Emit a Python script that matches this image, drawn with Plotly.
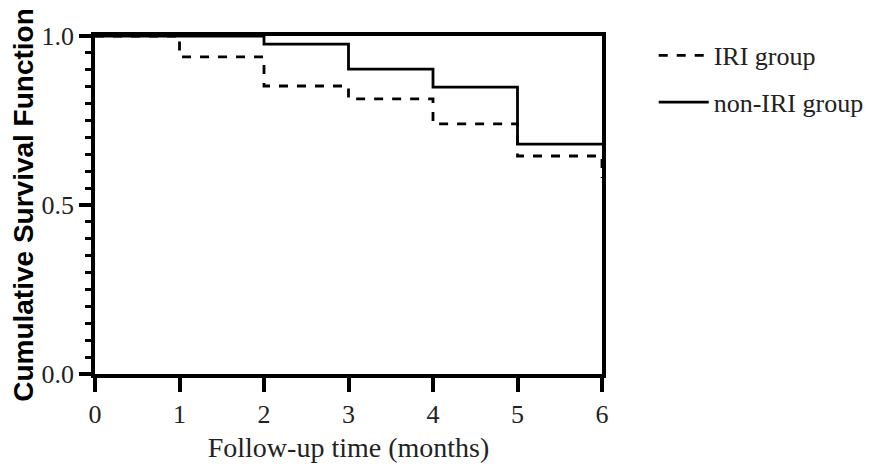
import plotly.graph_objects as go

# Data
iri_time = [0, 1, 2, 3, 4, 5, 6]
iri_surv = [1.0, 0.938, 0.852, 0.814, 0.74, 0.645, 0.58]
non_time = [0, 2, 3, 4, 5, 6]
non_surv = [1.0, 0.976, 0.902, 0.849, 0.68, 0.68]
x_ticks = [0, 1, 2, 3, 4, 5, 6]
y_ticks = [0.0, 0.5, 1.0]
y_labels = ["0.0", "0.5", "1.0"]

fig = go.Figure()
fig.add_trace(go.Scatter(x=iri_time, y=iri_surv, mode="lines", name="IRI group", legendgroup="a",
                         line=dict(color="black", width=2.8, dash="dash", shape="hv")))
fig.add_trace(go.Scatter(x=non_time, y=non_surv, mode="lines", name="non-IRI group", legendgroup="b",
                         line=dict(color="black", width=2.8, shape="hv")))

serif = "Liberation Serif, Times New Roman, serif"
fig.update_layout(
    width=878, height=473,
    margin=dict(l=87, r=284, t=28, b=107, autoexpand=False),
    paper_bgcolor="white", plot_bgcolor="white",
    showlegend=True,
    legend=dict(x=1.102, y=1.012, xanchor="left", yanchor="top",
                font=dict(family=serif, size=26, color="#222"),
                itemwidth=50, tracegroupgap=10, bgcolor="rgba(0,0,0,0)"),
    xaxis=dict(range=[0, 6], tickvals=x_ticks, ticks="outside", ticklen=14, tickwidth=3.5,
               tickcolor="black", showline=True, linewidth=3.5, linecolor="black", mirror=True,
               showgrid=False, zeroline=False,
               tickfont=dict(family=serif, size=26, color="#222"),
               title=dict(text="Follow-up time (months)", font=dict(family=serif, size=28, color="#222"), standoff=10)),
    yaxis=dict(range=[0, 1.0], tickvals=y_ticks, ticktext=y_labels, ticks="outside", ticklen=12, tickwidth=3.5,
               tickcolor="black", showline=True, linewidth=3.5, linecolor="black", mirror=True,
               showgrid=False, zeroline=False,
               minor=dict(dtick=0.05, ticks="outside", ticklen=6, tickwidth=2.5, tickcolor="black", showgrid=False),
               tickfont=dict(family=serif, size=26, color="#222"),
               title=dict(text="<b>Cumulative Survival Function</b>",
                          font=dict(family="Liberation Sans, Arial, sans-serif", size=28, color="black"), standoff=3)),
)
fig.write_html("out.html")
